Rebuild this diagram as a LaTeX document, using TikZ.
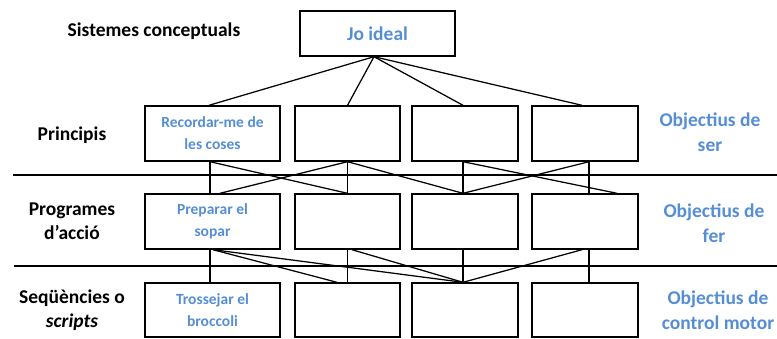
\documentclass[tikz,border=0pt]{standalone}
\usepackage{fontspec}
\setmainfont{Carlito}
\definecolor{tblue}{HTML}{558ED5}
\begin{document}
\begin{tikzpicture}[x=1pt,y=-1pt,
  box/.style={draw, line width=1.4pt, inner sep=0pt, align=center, text=tblue,
    minimum height=55pt, font=\bfseries\fontsize{15.5}{22}\selectfont},
  lab/.style={align=center, font=\bfseries\fontsize{19.5}{24.5}\selectfont},
  goal/.style={lab, text=tblue},
  conn/.style={line width=1.25pt},
  sep/.style={line width=1.25pt}]
\useasboundingbox (0,0) rectangle (777,338);

% separators
\coordinate (s1a) at (13,175); \coordinate (s1b) at (777,175);
\coordinate (s2a) at (14,266); \coordinate (s2b) at (777,266);
\draw[sep] (s1a) -- (s1b);
\draw[sep] (s2a) -- (s2b);

% top
\node[box, minimum width=155pt, minimum height=45pt,
  font=\bfseries\fontsize{19.5}{24}\selectfont] (top) at (377.5,33.5) {Jo ideal};

% row 1
\node[box, minimum width=135pt] (b11) at (212.5,133.5) {Recordar-me de\\les coses};
\node[box, minimum width=105pt] (b12) at (347.5,133.5) {};
\node[box, minimum width=106pt] (b13) at (465,133.5) {};
\node[box, minimum width=106pt] (b14) at (585,133.5) {};
% row 2
\node[box, minimum width=135pt] (b21) at (212.5,221.5) {Preparar el\\sopar};
\node[box, minimum width=105pt] (b22) at (347.5,221.5) {};
\node[box, minimum width=106pt] (b23) at (465,221.5) {};
\node[box, minimum width=106pt] (b24) at (585,221.5) {};
% row 3
\node[box, minimum width=135pt, minimum height=54pt] (b31) at (212.5,310) {Trossejar el\\broccoli};
\node[box, minimum width=105pt, minimum height=54pt] (b32) at (347.5,310) {};
\node[box, minimum width=106pt, minimum height=54pt] (b33) at (465,310) {};
\node[box, minimum width=106pt, minimum height=54pt] (b34) at (585,310) {};

% top -> row 1
\draw[conn] ([xshift=-3.5pt]top.south) -- ([xshift=-3.5pt]b11.north);
\draw[conn] ([xshift=-3.5pt]top.south) -- (b12.north);
\draw[conn] ([xshift=-3.5pt]top.south) -- ([xshift=-2pt]b13.north);
\draw[conn] ([xshift=-3.5pt]top.south) -- ([xshift=-3pt]b14.north);

% row 1 -> row 2
\draw[conn] ([xshift=-2.5pt]b11.south) -- ([xshift=-2.5pt]b21.north);
\draw[conn] ([xshift=-2.5pt]b11.south) -- (b22.north);
\draw[conn] (b12.south) -- ([xshift=7.5pt]b21.north);
\draw[conn] (b12.south) -- (b22.north);
\draw[conn] (b12.south) -- ([xshift=-2pt]b23.north);
\draw[conn] ([xshift=-2pt]b13.south) -- ([xshift=-2pt]b23.north);
\draw[conn] ([xshift=-2pt]b13.south) -- ([xshift=32pt]b24.north);
\draw[conn] ([xshift=4pt]b14.south) -- ([xshift=-2pt]b23.north);
\draw[conn] ([xshift=4pt]b14.south) -- ([xshift=4pt]b24.north);

% row 2 -> row 3
\draw[conn] ([xshift=-2.5pt]b21.south) -- ([xshift=-2.5pt]b31.north);
\draw[conn] ([xshift=0.5pt]b21.south) -- ([xshift=-10.5pt]b32.north);
\draw[conn] ([xshift=0.5pt]b21.south) -- ([xshift=-2pt]b33.north);
\draw[conn] (b22.south) -- (b32.north);
\draw[conn] ([xshift=4.5pt]b22.south) -- ([xshift=-2pt]b33.north);
\draw[conn] ([xshift=-2pt]b23.south) -- ([xshift=-2pt]b33.north);
\draw[conn] ([xshift=-3pt]b24.south) -- ([xshift=-2pt]b33.north);
\draw[conn] ([xshift=4pt]b24.south) -- ([xshift=4pt]b34.north);

% left labels
\node[lab] (l0) at (154,31) {Sistemes conceptuals};
\node[lab] (l1) at (72,135) {Principis};
\node[lab] (l2) at (72,221) {Programes\\d’acció};
\node[lab] (l3) at (72,310) {Seqüències o\\\textit{scripts}};

% right labels
\node[goal] (r1) at (710,132) {Objectius de\\ser};
\node[goal] (r2) at (714,223) {Objectius de\\fer};
\node[goal] (r3) at (718,310) {Objectius de\\control motor};
\end{tikzpicture}
\end{document}
